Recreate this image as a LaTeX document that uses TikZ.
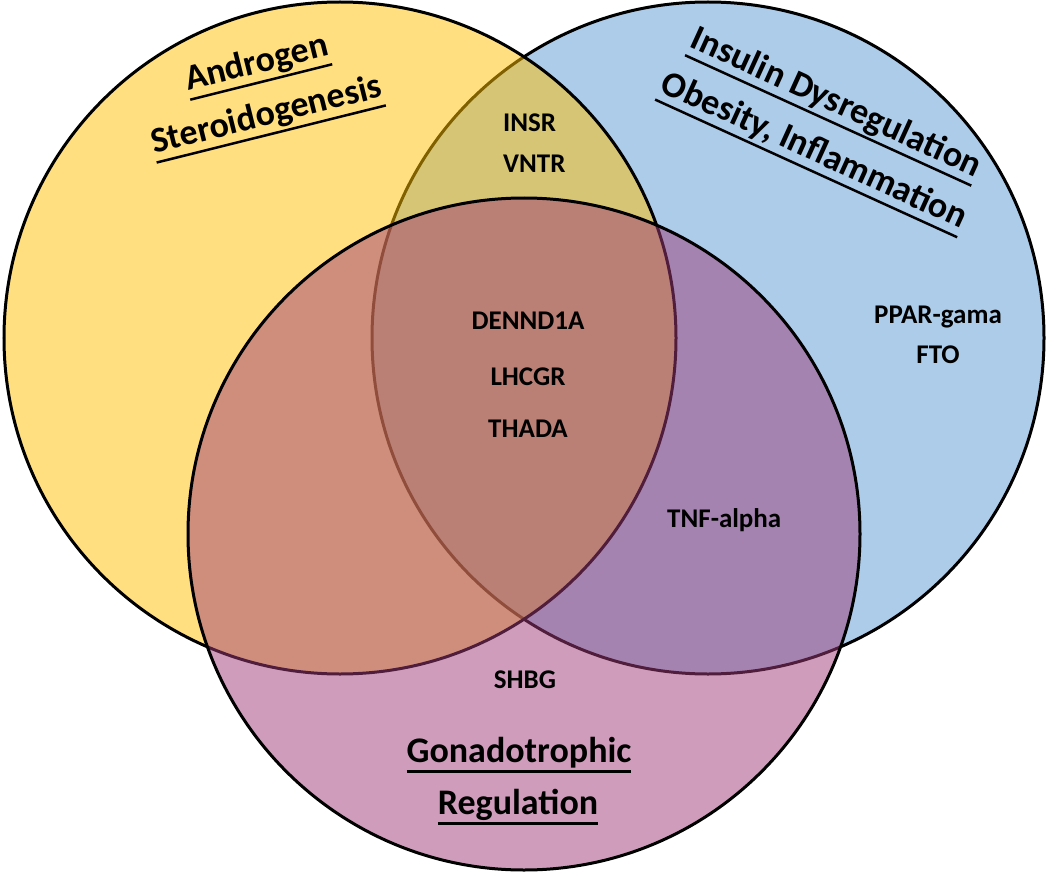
\documentclass[tikz,border=0pt]{standalone}
\usepackage{fontspec}
\setmainfont{Carlito}

% underline drawn as a rule below the baseline
\newsavebox\ulbox
\newcommand\ulined[1]{\sbox\ulbox{#1}\rlap{\vrule height -8pt depth 10.5pt width \wd\ulbox}\usebox\ulbox}

\definecolor{androgen}{HTML}{FFC000}
\definecolor{insulin}{HTML}{5B9BD5}
\definecolor{gonado}{HTML}{A03C78}

\begin{document}
\begin{tikzpicture}[x=1pt,y=-1pt,
        venn/.style={draw=black,line width=3pt,fill opacity=0.5},
        gene/.style={inner sep=0pt,anchor=base,font=\fontsize{27}{32}\selectfont\bfseries},
        title/.style={inner sep=0pt,anchor=base,font=\fontsize{36}{42}\selectfont\bfseries}]
    \useasboundingbox (0,0) rectangle (1050,872);
    \fill[white] (0,0) rectangle (1050,872);

    % the three sets
    \draw[venn,fill=insulin] (708,338) circle (336);
    \draw[venn,fill=androgen] (340,338) circle (336);
    \draw[venn,fill=gonado] (524,534) circle (336);

    % set titles
    \node[title,rotate=14] (andro1) at (259,73) {\ulined{Androgen}};
    \node[title,rotate=14] (andro2) at (269,125) {\ulined{Steroidogenesis}};
    \node[title,rotate=-24.5] (insul1) at (832,112) {\ulined{Insulin Dysregulation}};
    \node[title,rotate=-24.5] (insul2) at (810,160) {\ulined{Obesity, Inflammation}};
    \node[title] (gonad1) at (519,762) {\ulined{Gonadotrophic}};
    \node[title] (gonad2) at (518,814) {\ulined{Regulation}};

    % genes
    \node[gene,anchor=base west] (insr) at (503,132) {INSR};
    \node[gene,anchor=base west] (vntr) at (503,172) {VNTR};
    \node[gene] (dennd) at (528,329) {DENND1A};
    \node[gene] (lhcgr) at (528,385) {LHCGR};
    \node[gene] (thada) at (528,437) {THADA};
    \node[gene] (ppar) at (938,323) {PPAR-gama};
    \node[gene] (fto) at (938,363) {FTO};
    \node[gene,anchor=base west] (tnf) at (667,527) {TNF-alpha};
    \node[gene] (shbg) at (525,688) {SHBG};
\end{tikzpicture}
\end{document}
